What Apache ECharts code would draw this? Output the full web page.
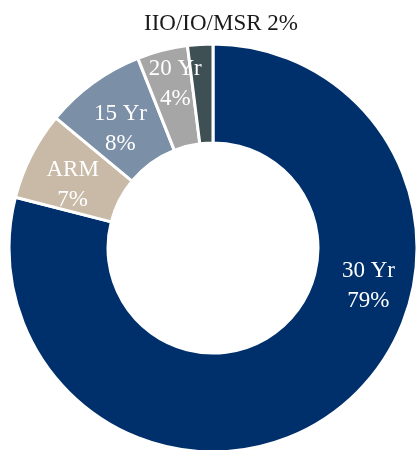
<!DOCTYPE html>
<html>
<head>
<meta charset="utf-8">
<script src="https://cdn.jsdelivr.net/npm/echarts@6/dist/echarts.min.js"></script>
<style>
html,body{margin:0;padding:0;background:#fff;}
#chart{width:417px;height:450px;}
</style>
</head>
<body>
<div id="chart"></div>
<script>
var categories = ['30 Yr', 'ARM', '15 Yr', '20 Yr', 'IIO/IO/MSR'];
var values = [79, 7, 8, 4, 2];
var colors = ['#00306B', '#C8BAA6', '#7B8FA7', '#A6A6A6', '#3E5054'];

var CX = 213, CY = 248, R0 = 105, R1 = 204;

var chart = echarts.init(document.getElementById('chart'), null, {renderer: 'canvas'});
var data = categories.map(function (c, i) {
  return {name: c, value: values[i], itemStyle: {color: colors[i]}, label: {show: i !== 4}};
});
chart.setOption({
  backgroundColor: '#ffffff',
  animation: false,
  series: [{
    type: 'pie',
    center: [CX, CY],
    radius: [R0, R1],
    startAngle: 90,
    clockwise: true,
    data: data,
    itemStyle: {borderColor: '#ffffff', borderWidth: 3},
    label: {
      show: true,
      position: 'inside',
      color: '#ffffff',
      fontFamily: 'Liberation Serif',
      fontSize: 23,
      lineHeight: 30,
      formatter: function (p) { return p.name + '\n' + p.value + '%'; }
    },
    labelLine: {show: false},
    labelLayout: function (p) {
      if (p.dataIndex === 0) {
        var a = 103 * Math.PI / 180, r = (R0 + R1) / 2 + 5;
        return {x: CX + r * Math.sin(a), y: CY - r * Math.cos(a) + 2, align: 'center', verticalAlign: 'middle'};
      }
      if (p.dataIndex === 3) {
        var a3 = 347 * Math.PI / 180, r3 = 168;
        return {x: CX + r3 * Math.sin(a3), y: CY - r3 * Math.cos(a3), align: 'center', verticalAlign: 'middle'};
      }
      if (p.dataIndex === 1 || p.dataIndex === 2) {
        return {dy: 8};
      }
      return {};
    }
  }, {
    type: 'pie',
    center: [CX, CY],
    radius: [R0, R1],
    startAngle: 90,
    clockwise: true,
    silent: true,
    data: categories.map(function (c, i) {
      return {name: c, value: values[i], itemStyle: {color: 'transparent'},
        label: {show: i === 4}};
    }),
    itemStyle: {borderWidth: 0},
    label: {
      show: true,
      position: 'outside',
      color: '#1a1a1a',
      fontFamily: 'Liberation Serif',
      fontSize: 23,
      formatter: function (p) { return p.name + ' ' + p.value + '%'; }
    },
    labelLine: {show: false},
    labelLayout: function (p) {
      return {x: CX + 8, y: CY - R1 - 20, align: 'center', verticalAlign: 'middle'};
    }
  }]
});
</script>
</body>
</html>
